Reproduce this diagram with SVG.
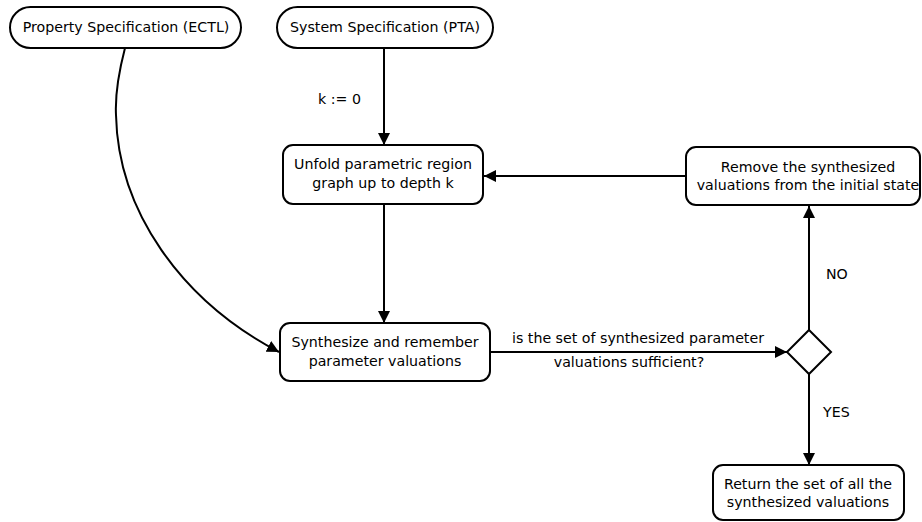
<svg xmlns="http://www.w3.org/2000/svg" width="922" height="522" viewBox="0 0 922 522">
  <style>
    .box { fill: #fff; stroke: #000; stroke-width: 2; }
    .edge { fill: none; stroke: #000; stroke-width: 2; }
    text { font-family: "DejaVu Sans", "Liberation Sans", sans-serif; font-size: 14.2px; fill: #000; }
    .c { text-anchor: middle; }
  </style>
  <defs>
    <marker id="arrow" viewBox="0 0 12 12" refX="12" refY="6" markerWidth="12" markerHeight="12" markerUnits="userSpaceOnUse" orient="auto">
      <path d="M0,0 L12,6 L0,12 Z" fill="#000"/>
    </marker>
  </defs>

  <rect width="922" height="522" fill="#fff"/>

  <g id="connectors">
    <path class="edge" d="M125,48 C118,75 115,95 116,115 C118,210 180,300 279,352" marker-end="url(#arrow)"/>
    <path class="edge" d="M384,48 L384,145" marker-end="url(#arrow)"/>
    <path class="edge" d="M384,204 L384,323" marker-end="url(#arrow)"/>
    <path class="edge" d="M490,352 L787,352" marker-end="url(#arrow)"/>
    <path class="edge" d="M809,330 L809,206" marker-end="url(#arrow)"/>
    <path class="edge" d="M686,176 L484,176" marker-end="url(#arrow)"/>
    <path class="edge" d="M809,373 L809,465" marker-end="url(#arrow)"/>
    <text x="318" y="104">k := 0</text>
    <text class="c" x="638" y="343">is the set of synthesized parameter</text>
    <text class="c" x="629" y="367">valuations sufficient?</text>
    <text x="826" y="279">NO</text>
    <text x="823" y="417">YES</text>
  </g>

  <g id="property-spec">
    <rect class="box" x="10" y="7" width="231" height="41" rx="20.5"/>
    <text class="c" x="126" y="32">Property Specification (ECTL)</text>
  </g>

  <g id="system-spec">
    <rect class="box" x="277" y="7" width="216" height="41" rx="20.5"/>
    <text class="c" x="385" y="32">System Specification (PTA)</text>
  </g>

  <g id="unfold">
    <rect class="box" x="283" y="145" width="200" height="59" rx="10"/>
    <text class="c" x="383" y="169">Unfold parametric region</text>
    <text class="c" x="383" y="188">graph up to depth k</text>
  </g>

  <g id="remove">
    <rect class="box" x="686" y="147" width="234" height="58" rx="10"/>
    <text class="c" x="808" y="172">Remove the synthesized</text>
    <text class="c" x="808" y="190">valuations from the initial state</text>
  </g>

  <g id="synthesize">
    <rect class="box" x="280" y="323" width="210" height="58" rx="10"/>
    <text class="c" x="385" y="347">Synthesize and remember</text>
    <text class="c" x="385" y="366">parameter valuations</text>
  </g>

  <g id="decision">
    <path class="box" d="M809,330 L831,352 L809,374 L787,352 Z"/>
  </g>

  <g id="return">
    <rect class="box" x="713" y="465" width="191" height="55" rx="10"/>
    <text class="c" x="808" y="489">Return the set of all the</text>
    <text class="c" x="808" y="507">synthesized valuations</text>
  </g>
</svg>
